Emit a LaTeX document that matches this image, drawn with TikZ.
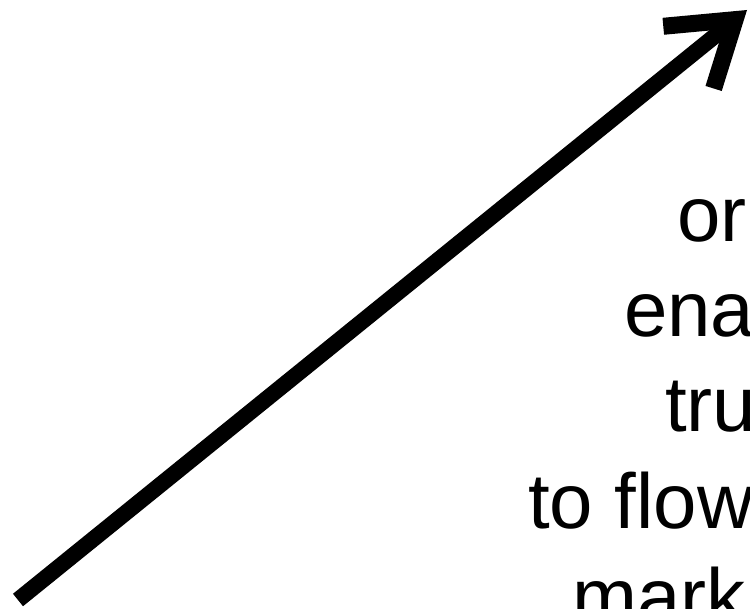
\documentclass[tikz,border=0pt]{standalone}
\usepackage{fontspec}
\setmainfont{Liberation Sans}
\usepackage{tikz}
\usetikzlibrary{arrows.meta}

\begin{document}
\begin{tikzpicture}[x=1pt,y=-1pt, txt/.style={anchor=base west,inner sep=0pt,font=\fontsize{78}{95}\selectfont},
  >={Straight Barb[sharp,length=60pt,width=80pt,line width=17pt]}]
  \useasboundingbox (0,0) rectangle (750,609);
  \clip (0,0) rectangle (750,609);
  \coordinate (tail) at (18,600);
  \coordinate (head) at (747,10);
  \draw[->,line width=16pt] (tail) -- (head);
  \node[txt] (l1) at (677,242) {or};
  \node[txt] (l2) at (624,337) {ena};
  \node[txt] (l3) at (665,432) {tru};
  \node[txt] (l4) at (528,528) {to flow};
  \node[txt] (l5) at (572,623) {mark};
\end{tikzpicture}
\end{document}
